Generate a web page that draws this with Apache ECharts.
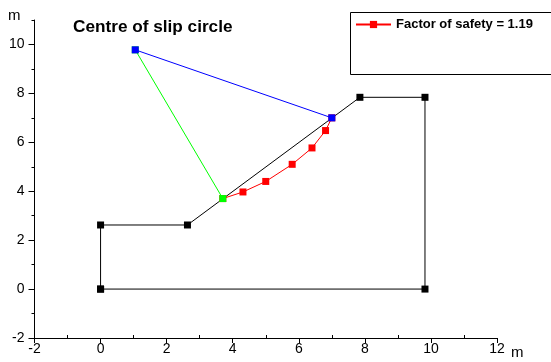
<!DOCTYPE html>
<html>
<head>
<meta charset="utf-8">
<script src="https://cdn.jsdelivr.net/npm/echarts@6/dist/echarts.min.js"></script>
<style>html,body{margin:0;padding:0;background:#fff;}#c{width:551px;height:362px;}</style>
</head>
<body>
<div id="c"></div>
<script>
// Data
const slopeX = [0, 0, 2.63, 7.85, 9.82, 9.82, 0];
const slopeY = [0, 2.62, 2.62, 7.84, 7.84, 0, 0];
const slipX = [3.7, 4.31, 5.0, 5.8, 6.4, 6.81, 7.0];
const slipY = [3.7, 3.97, 4.4, 5.1, 5.77, 6.48, 7.0];
const centreX = [1.05];
const centreY = [9.78];
const entryPt = [3.7, 3.7];
const exitPt = [7.0, 7.0];
const xMajor = [-2, 0, 2, 4, 6, 8, 10, 12];
const xMinor = [-1, 1, 3, 5, 7, 9, 11];
const yMajor = [-2, 0, 2, 4, 6, 8, 10];
const yMinor = [-1, 1, 3, 5, 7, 9, 11];
const legendName = 'Factor of safety = 1.19';
const titleText = 'Centre of slip circle';

const zip = (xs, ys) => xs.map((x, i) => [x, ys[i]]);
const centre = [centreX[0], centreY[0]];
const FONT = 'Liberation Sans, Arial, sans-serif';

const chart = echarts.init(document.getElementById('c'), null, {renderer: 'canvas'});
chart.setOption({
  animation: false,
  backgroundColor: '#fff',
  title: {
    text: titleText, left: 68, top: 14,
    textStyle: {fontFamily: FONT, fontWeight: 'bold', fontSize: 17.2, color: '#000'}
  },
  legend: {
    left: 355, top: 18, padding: 0, itemWidth: 35, itemHeight: 9, itemGap: 5,
    data: [legendName],
    textStyle: {fontFamily: FONT, fontWeight: 'bold', fontSize: 13, color: '#000'}
  },
  graphic: [{
    type: 'rect', left: 348, top: 10,
    shape: {width: 220, height: 62},
    style: {fill: 'none', stroke: '#000', lineWidth: 1}
  }],
  grid: {left: 34.5, right: 54, top: 20, bottom: 24, containLabel: false},
  xAxis: [{
    type: 'value', min: -2, max: 12, interval: 1, position: 'bottom',
    name: 'm', nameLocation: 'end', nameGap: 14,
    nameTextStyle: {fontFamily: FONT, fontSize: 15, color: '#000', verticalAlign: 'top', padding: [7, 0, 0, 0]},
    axisLine: {show: true, onZero: false, lineStyle: {color: '#000', width: 1}},
    axisTick: {show: true, customValues: xMajor, length: 5, lineStyle: {color: '#000'}},
    axisLabel: {customValues: xMajor, fontFamily: FONT, fontSize: 14, color: '#000', margin: 4},
    splitLine: {show: false}
  }, {
    type: 'value', min: -2, max: 12, interval: 1, position: 'bottom',
    axisLine: {show: false, onZero: false},
    axisTick: {show: true, customValues: xMinor, inside: true, length: 3, lineStyle: {color: '#000'}},
    axisLabel: {show: false},
    splitLine: {show: false}
  }],
  yAxis: [{
    type: 'value', min: -2, max: 11, interval: 1, position: 'left',
    name: 'm', nameLocation: 'end', nameGap: -3,
    nameTextStyle: {fontFamily: FONT, fontSize: 15, color: '#000', align: 'right', padding: [0, 14, 0, 0]},
    axisLine: {show: true, onZero: false, lineStyle: {color: '#000', width: 1}},
    axisTick: {show: true, customValues: yMajor, length: 6, lineStyle: {color: '#000'}},
    axisLabel: {customValues: yMajor, fontFamily: FONT, fontSize: 14, color: '#000', margin: 10},
    splitLine: {show: false}
  }, {
    type: 'value', min: -2, max: 11, interval: 1, position: 'left',
    axisLine: {show: false, onZero: false},
    axisTick: {show: true, customValues: yMinor, length: 3, lineStyle: {color: '#000'}},
    axisLabel: {show: false},
    splitLine: {show: false}
  }],
  series: [
    {
      type: 'line', name: 'slope', data: zip(slopeX, slopeY),
      symbol: 'rect', symbolSize: 7, showSymbol: true,
      lineStyle: {color: '#000', width: 1}, itemStyle: {color: '#000'}, z: 2
    },
    {
      type: 'line', name: legendName, data: zip(slipX, slipY),
      symbol: 'rect', symbolSize: 7,
      lineStyle: {color: '#ff0000', width: 1}, itemStyle: {color: '#ff0000'}, z: 3
    },
    {
      type: 'line', name: 'toEntry', data: [centre, entryPt],
      symbol: 'rect', symbolSize: 7,
      lineStyle: {color: '#00ff00', width: 1}, itemStyle: {color: '#00ff00'}, z: 4
    },
    {
      type: 'line', name: 'toExit', data: [centre, exitPt],
      symbol: 'rect', symbolSize: 7,
      lineStyle: {color: '#0000ff', width: 1}, itemStyle: {color: '#0000ff'}, z: 5
    }
  ]
});
</script>
</body>
</html>
